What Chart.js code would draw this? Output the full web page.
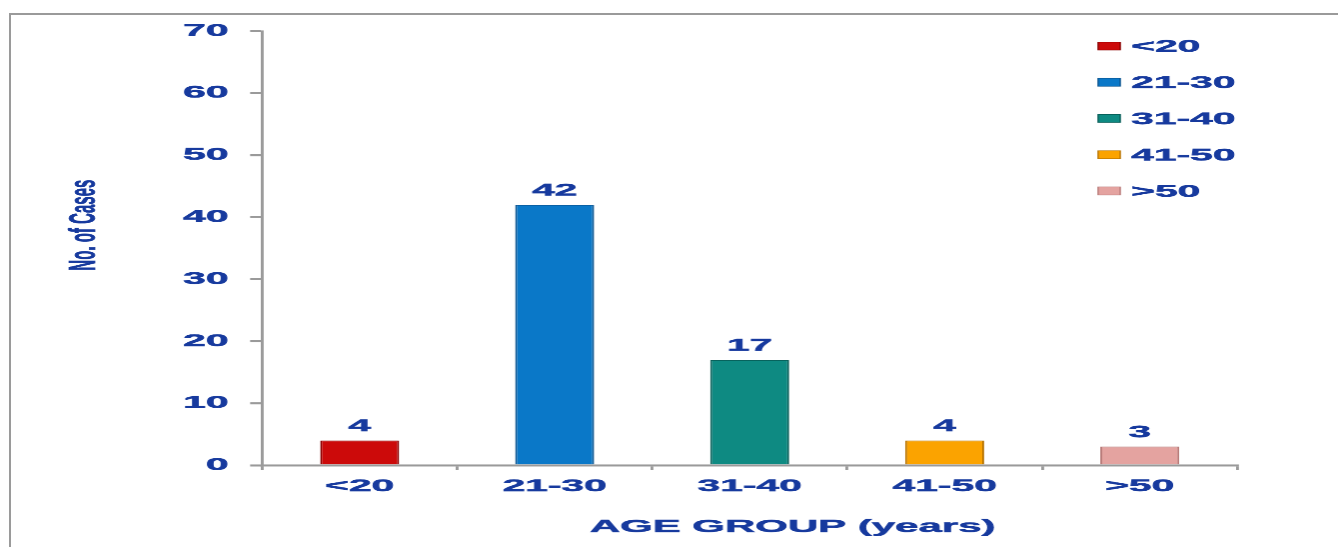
<!DOCTYPE html>
<html>
<head>
<meta charset="utf-8">
<script src="https://cdn.jsdelivr.net/npm/chart.js@4.4.1/dist/chart.umd.min.js"></script>
<style>
html, body { margin: 0; padding: 0; background: #fff; overflow: hidden; }
#frame {
    position: absolute; left: 9px; top: 13px; width: 1340px; height: 540px;
    border-left: 2px solid #9a9a9a; border-top: 2px solid #9a9a9a;
}
/* the original picture is stretched sideways, so draw narrow and scale the whole chart */
#wrap {
    position: absolute; left: 0; top: 0; width: 558px; height: 547px;
    transform: scaleX(2.3978); transform-origin: 0 0;
}
</style>
</head>
<body>
<div id="frame"></div>
<div id="wrap"><canvas id="ageChart"></canvas></div>
<script>
// Age groups and number of cases
const ageGroups = ['<20', '21-30', '31-40', '41-50', '>50'];
const caseCounts = [4, 42, 17, 4, 3];
const barColors = ['#cc0a0a', '#0a78c8', '#0e8a82', '#fba300', '#e4a3a0'];
const barEdges = ['#8a0000', '#0a5490', '#075e58', '#b87400', '#b87a78'];

const textBlue = '#173a9e';
const boldFont = (size) => ({ family: '"Liberation Sans", Arial, sans-serif', size: size, weight: 'bold' });

// write text a little heavier, like the original
function heavyText(ctx, txt, x, y) {
    ctx.fillText(txt, x, y);
    ctx.strokeText(txt, x, y);
}

// value labels, legend and axis titles
const decor = {
    id: 'decor',
    afterDraw(chart) {
        const ctx = chart.ctx;
        const meta = chart.getDatasetMeta(0);
        ctx.save();
        ctx.fillStyle = textBlue;
        ctx.strokeStyle = textBlue;
        ctx.lineWidth = 0.45;
        ctx.font = 'bold 17px "Liberation Sans", Arial, sans-serif';
        ctx.textAlign = 'center';
        ctx.textBaseline = 'middle';
        meta.data.forEach((bar, i) => {
            heavyText(ctx, String(caseCounts[i]), bar.x, bar.y - 14);
        });

        // legend on the right
        ctx.textAlign = 'left';
        ageGroups.forEach((g, i) => {
            const y = 46 + i * 36.2;
            ctx.fillStyle = barColors[i];
            ctx.fillRect(457.9, y - 4, 9.2, 8);
            ctx.strokeStyle = barEdges[i];
            ctx.lineWidth = 0.6;
            ctx.strokeRect(457.9, y - 4, 9.2, 8);
            ctx.fillStyle = textBlue;
            ctx.strokeStyle = textBlue;
            ctx.lineWidth = 0.45;
            heavyText(ctx, g, 471.7, y + 1);
        });

        // x axis title
        ctx.textAlign = 'center';
        ctx.font = 'bold 17.5px "Liberation Sans", Arial, sans-serif';
        heavyText(ctx, 'AGE GROUP (years)', 330.5, 527);

        // y axis title
        ctx.translate(35.5, 225);
        ctx.rotate(-Math.PI / 2);
        ctx.font = 'bold 15px "Liberation Sans Narrow", "Liberation Sans", Arial, sans-serif';
        ctx.lineWidth = 0.3;
        heavyText(ctx, 'No. of Cases', 0, 0);
        ctx.restore();
    }
};

new Chart(document.getElementById('ageChart'), {
    type: 'bar',
    data: {
        labels: ageGroups,
        datasets: [{
            label: 'No. of Cases',
            data: caseCounts,
            backgroundColor: barColors,
            borderColor: barEdges,
            borderWidth: 0.8,
            barPercentage: 0.405,
            categoryPercentage: 1
        }]
    },
    options: {
        responsive: true,
        maintainAspectRatio: false,
        devicePixelRatio: 2.4,
        animation: false,
        layout: { padding: { left: 0, top: 31, right: 42.1, bottom: 0 } },
        plugins: {
            legend: { display: false },
            tooltip: { enabled: false }
        },
        scales: {
            x: {
                afterFit: (s) => { s.height = 82; },
                border: { color: '#9a9a9a', width: 2 },
                grid: { offset: true, drawOnChartArea: false, color: '#9a9a9a', lineWidth: 1.2, tickLength: 5 },
                ticks: { color: textBlue, font: boldFont(17), padding: 6, textStrokeColor: textBlue, textStrokeWidth: 0.45 }
            },
            y: {
                min: 0,
                max: 70,
                afterFit: (s) => { s.width = 109.3; },
                border: { color: '#9a9a9a', width: 1.2 },
                grid: { drawOnChartArea: false, color: '#9a9a9a', lineWidth: 2, tickLength: 5 },
                ticks: { stepSize: 10, color: textBlue, font: boldFont(17), padding: 9, textStrokeColor: textBlue, textStrokeWidth: 0.45 }
            }
        }
    },
    plugins: [decor]
});
</script>
</body>
</html>
